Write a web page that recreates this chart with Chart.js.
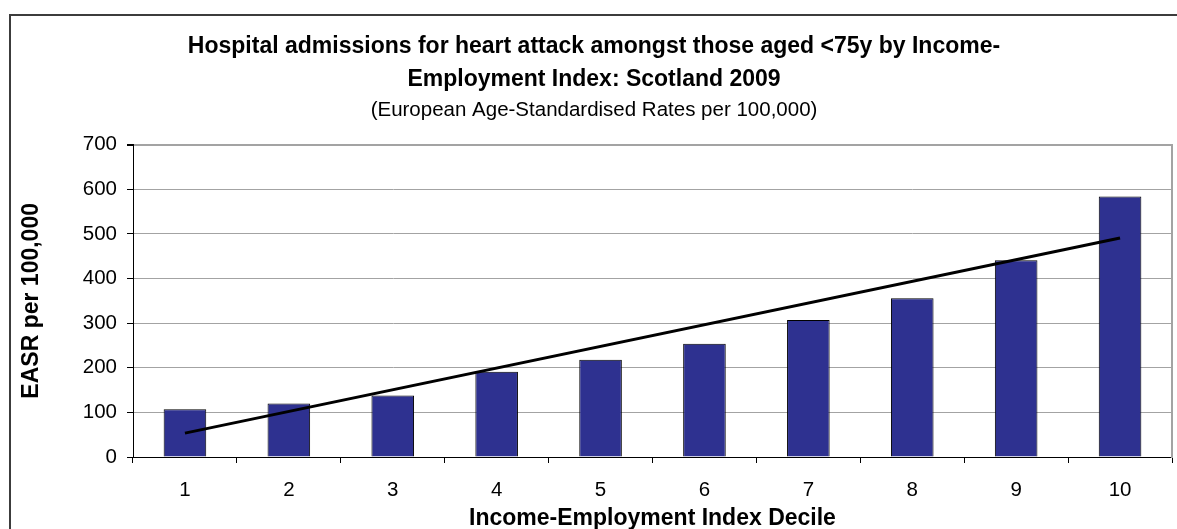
<!DOCTYPE html>
<html><head><meta charset="utf-8">
<script src="https://cdn.jsdelivr.net/npm/chart.js@4"></script>
<style>
html,body{margin:0;padding:0;background:#fff;overflow:hidden;width:1177px;height:529px;position:relative;}
#frame{position:absolute;left:9px;top:14px;width:1300px;height:700px;border-left:2px solid #3c3c3c;border-top:2px solid #3c3c3c;}
#wrap{position:absolute;left:11px;top:17px;width:1166px;height:520px;}
</style></head><body>
<div id="frame"></div>
<div id="wrap"><canvas id="c"></canvas></div>
<script>
const categories = ['1','2','3','4','5','6','7','8','9','10'];
const easrValues = [107, 120, 138, 191, 218, 254, 307, 356, 441, 584];
const trendCategories = ['1', '10'];
const trendValues = [53.5, 491];
const yTicks = [0, 100, 200, 300, 400, 500, 600, 700];
const titleLines = ['Hospital admissions for heart attack amongst those aged <75y by Income-', 'Employment Index: Scotland 2009'];
const subtitleText = '(European Age-Standardised Rates per 100,000)';
const xTitle = 'Income-Employment Index Decile';
const yTitle = 'EASR per 100,000';

Chart.defaults.font.family = "'Liberation Sans', Arial, sans-serif";
Chart.defaults.color = '#000';

new Chart(document.getElementById('c'), {
  data: {
    labels: categories,
    datasets: [
      {
        type: 'line',
        data: trendCategories.map((c, i) => ({x: c, y: trendValues[i]})),
        borderColor: '#000',
        borderWidth: 3,
        borderCapStyle: 'butt',
        pointRadius: 0,
        fill: false,
        order: 0
      },
      {
        type: 'bar',
        data: easrValues,
        backgroundColor: '#2e3190',
        borderColor: '#000',
        borderWidth: 1,
        barPercentage: 0.41,
        categoryPercentage: 1.0,
        order: 1
      }
    ]
  },
  options: {
    responsive: true,
    maintainAspectRatio: false,
    animation: false,
    layout: {padding: {left: 0, right: 0, top: 0, bottom: 0}},
    plugins: {
      legend: {display: false},
      tooltip: {enabled: false},
      title: {
        display: true,
        text: titleLines,
        font: {size: 23, weight: 'bold', lineHeight: 1.45},
        padding: {top: 13, bottom: 0}
      },
      subtitle: {
        display: true,
        text: subtitleText,
        font: {size: 20.5, lineHeight: 1.3},
        padding: {top: 0, bottom: 21.3}
      }
    },
    scales: {
      x: {
        type: 'category',
        offset: true,
        grid: {
          offset: true,
          drawOnChartArea: false,
          tickLength: 6,
          tickColor: '#000'
        },
        border: {color: '#000', width: 1},
        ticks: {font: {size: 20.5, lineHeight: 1.2}, padding: 15},
        title: {
          display: true,
          text: xTitle,
          font: {size: 23, weight: 'bold', lineHeight: 1.2},
          padding: {top: 0, bottom: 5}
        },
        afterFit: (s) => { s.height = 80; }
      },
      y: {
        min: 0,
        max: 700,
        afterBuildTicks: (s) => { s.ticks = yTicks.map(v => ({value: v})); },
        grid: {
          color: (ctx) => ctx.tick && ctx.tick.value === 0 ? '#000' : '#a3a3a3',
          lineWidth: (ctx) => ctx.tick && ctx.tick.value === 700 ? 2 : 1,
          tickLength: 6,
          tickColor: '#000'
        },
        border: {color: '#000', width: 1},
        ticks: {font: {size: 20.5}, padding: 10},
        title: {
          display: true,
          text: yTitle,
          font: {size: 23, weight: 'bold', lineHeight: 1.2},
          padding: {top: 7, bottom: 0}
        },
        afterFit: (s) => { s.width = 122; }
      },
      y2: {
        position: 'right',
        min: 0,
        max: 700,
        grid: {drawOnChartArea: false, drawTicks: false},
        ticks: {display: false},
        border: {color: '#a3a3a3', width: 2},
        afterFit: (s) => { s.width = 5; }
      }
    }
  }
});
</script>
</body></html>
